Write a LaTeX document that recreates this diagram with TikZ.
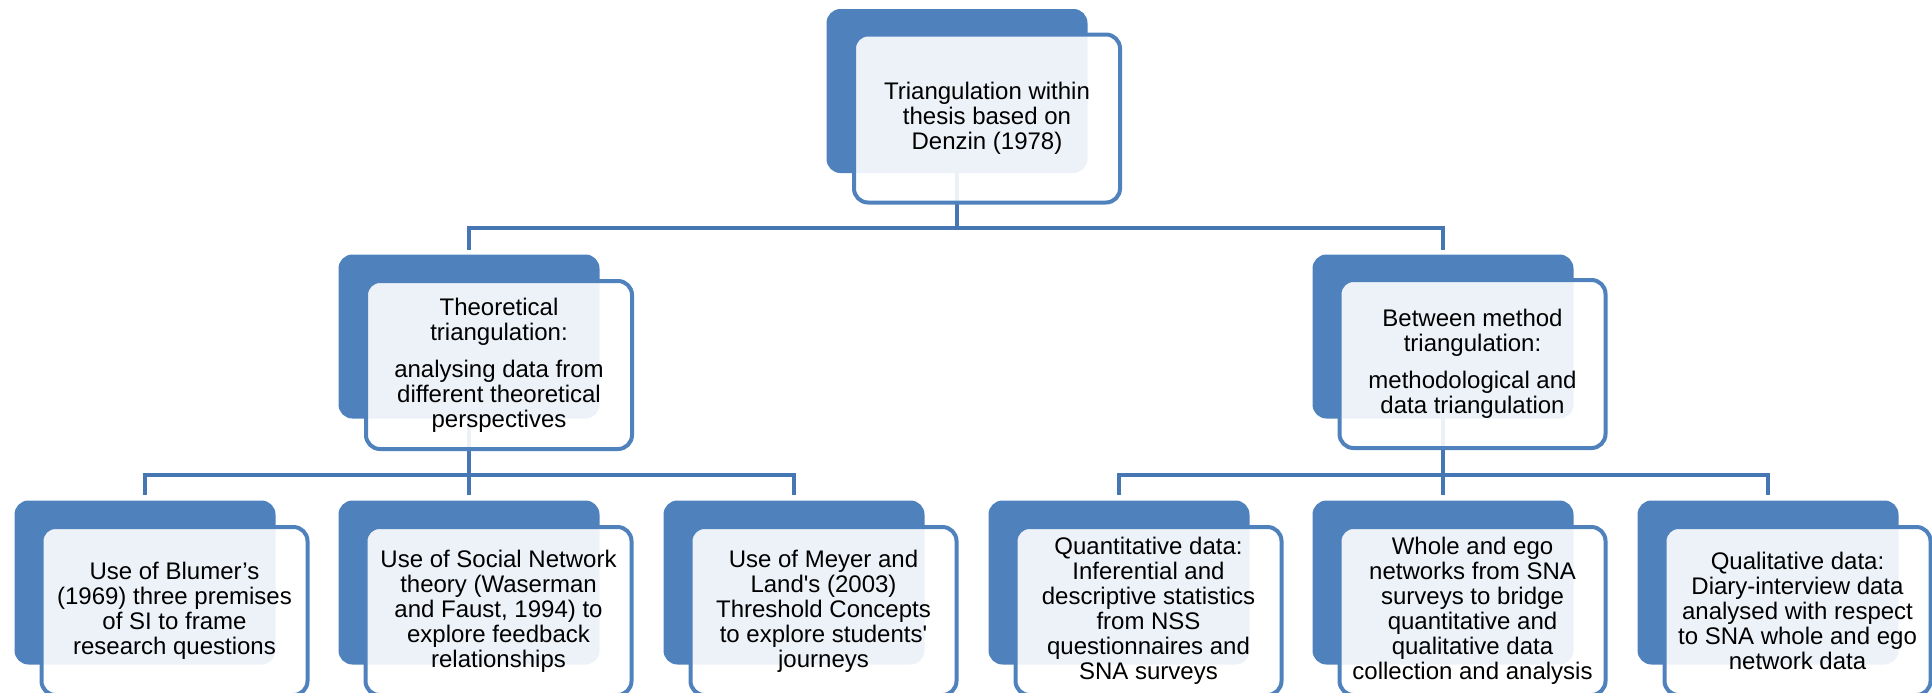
\documentclass[tikz,border=0pt]{standalone}
\usepackage{fontspec}
\setmainfont{Liberation Sans}[Ligatures=TeXOff]
\usetikzlibrary{backgrounds}
\definecolor{boxblue}{HTML}{4F81BD}
\definecolor{linkblue}{HTML}{4676B4}
\begin{document}
\begin{tikzpicture}[x=0.5pt,y=-0.5pt,
  backbox/.style={fill=boxblue, rounded corners=7pt, minimum width=130.5pt,
    minimum height=82pt, inner sep=0pt, outer sep=0pt},
  frontbox/.style={draw=boxblue, line width=2pt, fill=white, fill opacity=0.9,
    text opacity=1, rounded corners=7pt, minimum width=133pt, minimum height=84pt,
    inner sep=2pt, align=center, font=\fontsize{12}{12.5}\selectfont},
  link/.style={draw=linkblue, line width=2pt},
]
\useasboundingbox (0,0) rectangle (1932,692);

% root
\node[backbox] (dTop) at (957,91) {};
\node[frontbox] (wTop) at (987,118.5) {Triangulation within\\thesis based on\\Denzin (1978)};

% second level
\node[backbox] (dTheo) at (469,336.5) {};
\node[frontbox] (wTheo) at (499,365) {Theoretical\\triangulation:\\[6pt]analysing data from\\different theoretical\\perspectives};

\node[backbox] (dBetw) at (1443,336.5) {};
\node[frontbox] (wBetw) at (1472.5,364) {Between method\\triangulation:\\[6pt]methodological and\\data triangulation};

% third level
\node[backbox] (dA) at (145,582.5) {};
\node[frontbox] (wA) at (174.5,611) {Use of Blumer’s\\(1969) three premises\\of SI to frame\\research questions};

\node[backbox] (dB) at (469,582.5) {};
\node[frontbox] (wB) at (498.5,611) {Use of Social Network\\theory (Waserman\\and Faust, 1994) to\\explore feedback\\relationships};

\node[backbox] (dC) at (794,582.5) {};
\node[frontbox] (wC) at (823.5,611) {Use of Meyer and\\Land's (2003)\\Threshold Concepts\\to explore students'\\journeys};

\node[backbox] (dD) at (1119,582.5) {};
\node[frontbox] (wD) at (1148.5,611) {Quantitative data:\\Inferential and\\descriptive statistics\\from NSS\\questionnaires and\\SNA surveys};

\node[backbox] (dE) at (1443,582.5) {};
\node[frontbox] (wE) at (1472.5,611) {Whole and ego\\networks from SNA\\surveys to bridge\\quantitative and\\qualitative data\\collection and analysis};

\node[backbox] (dF) at (1768,582.5) {};
\node[frontbox] (wF) at (1797.5,611) {Qualitative data:\\Diary-interview data\\analysed with respect\\to SNA whole and ego\\network data};

% connectors, kept behind the boxes
\begin{scope}[on background layer]
  \coordinate (j1) at (957,228);
  \draw[link] (dTop.center) -- (j1);
  \draw[link, shorten >=2.5pt] (j1) -| (dTheo.north);
  \draw[link, shorten >=2.5pt] (j1) -| (dBetw.north);

  \coordinate (j2) at (469,475);
  \draw[link] (dTheo.center) -- (j2);
  \draw[link, shorten >=3pt] (j2) -| (dA.north);
  \draw[link, shorten >=3pt] (j2) -| (dB.north);
  \draw[link, shorten >=3pt] (j2) -| (dC.north);

  \coordinate (j3) at (1443,475);
  \draw[link] (dBetw.center) -- (j3);
  \draw[link, shorten >=3pt] (j3) -| (dD.north);
  \draw[link, shorten >=3pt] (j3) -| (dE.north);
  \draw[link, shorten >=3pt] (j3) -| (dF.north);
\end{scope}
\end{tikzpicture}
\end{document}
